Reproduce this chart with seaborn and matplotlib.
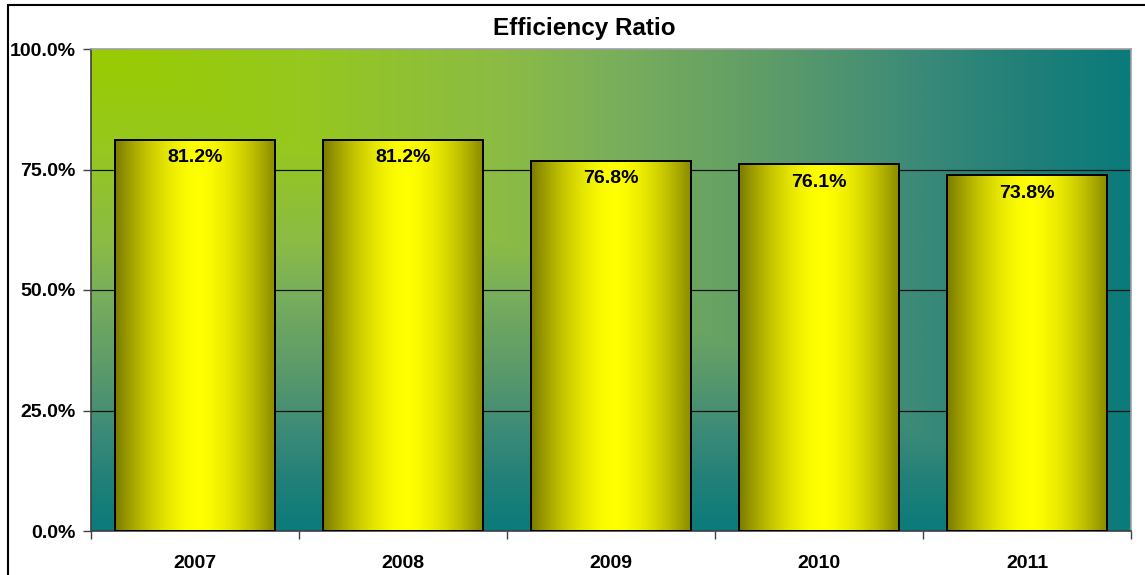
import numpy as np
import pandas as pd
import seaborn as sns
import matplotlib.pyplot as plt
from matplotlib.lines import Line2D
from matplotlib.ticker import FuncFormatter, MultipleLocator, FixedLocator
from matplotlib.colors import to_rgb, LinearSegmentedColormap

# chart data
years = ["2007", "2008", "2009", "2010", "2011"]
ratios = [81.2, 81.2, 76.8, 76.1, 73.8]

df = pd.DataFrame({"year": years, "ratio": ratios})

sns.set_style("white")
plt.rcParams["font.family"] = ["Liberation Sans", "DejaVu Sans"]
plt.rcParams["font.weight"] = "bold"
plt.rcParams["text.color"] = "black"

fig = plt.figure(figsize=(11.45, 5.75), dpi=100)
ax = fig.add_axes([91 / 1145, 1 - 531 / 575, 1040 / 1145, 482 / 575])

# background: excel style "from corner" gradient, lime -> teal
bg_cmap = LinearSegmentedColormap.from_list("bg", [
    (0.0, "#99CC00"), (0.2, "#96C81E"), (0.4, "#8BBB45"), (0.5, "#7AAF5B"),
    (0.62, "#65A065"), (0.72, "#4F9470"), (0.8, "#3A8A78"), (0.9, "#218078"),
    (1.0, "#0A7B7B")])
u = np.linspace(0, 1, 500)[None, :]
v = np.linspace(0, 1, 250)[:, None]
t = np.maximum(u, v)
ax.imshow(bg_cmap(t), extent=[0, 1, 0, 1], transform=ax.transAxes, aspect="auto",
          zorder=0, origin="upper")

sns.barplot(data=df, x="year", y="ratio", ax=ax, width=160 / 208,
            color="#FFFF00", edgecolor="black", linewidth=1.4, zorder=3)

# bar fill: olive edges, yellow centre
olive = np.array(to_rgb("#7A7A00"))
yellow = np.array(to_rgb("#FFFF00"))
s = np.linspace(0, 1, 200)
d = np.abs(s - 0.52) / 0.52
d = np.clip(d, 0, 1)
prof = yellow + (olive - yellow) * (d ** 1.7)[:, None]
grad = prof[None, :, :]
for p in ax.patches:
    x0, w, h = p.get_x(), p.get_width(), p.get_height()
    im = ax.imshow(grad, extent=[x0, x0 + w, 0, h], aspect="auto", zorder=2)
    im.set_clip_path(p)
    p.set_facecolor("none")

ax.set_xlim(-0.5, 4.5)
ax.set_ylim(0, 100)

# gridlines
for g in [25, 50, 75]:
    ax.axhline(g, color="#111111", lw=0.9, zorder=1)

ax.yaxis.set_major_locator(MultipleLocator(25))
ax.yaxis.set_major_formatter(FuncFormatter(lambda val, pos: f"{val:.1f}%"))
ax.xaxis.set_minor_locator(FixedLocator(np.arange(-0.5, 5, 1)))
ax.tick_params(axis="y", which="major", left=True, length=6, width=1,
               color="#404040", pad=5, labelsize=14, labelcolor="black")
ax.tick_params(axis="x", which="major", bottom=True, length=0, pad=17,
               labelsize=14, labelcolor="black")
ax.tick_params(axis="x", which="minor", bottom=True, length=6, width=1,
               color="#404040")
for lab in ax.get_xticklabels() + ax.get_yticklabels():
    lab.set_fontweight("bold")
ax.set_xlabel("")
ax.set_ylabel("")

for side in ["left", "bottom"]:
    ax.spines[side].set_color("#404040")
    ax.spines[side].set_linewidth(1.2)
for side in ["top", "right"]:
    ax.spines[side].set_color("#A0A0A0")
    ax.spines[side].set_linewidth(1.2)

# value labels inside bar tops
for i, val in enumerate(ratios):
    ax.annotate(f"{val:.1f}%", (i, val), xytext=(0, -13), textcoords="offset points",
                ha="center", va="center", fontsize=14, fontweight="bold",
                color="black", zorder=5)

fig.text(584 / 1145, 1 - 28 / 575, "Efficiency Ratio", ha="center", va="center",
         fontsize=17.5, fontweight="bold", color="black")

# outer chart frame (left & top edges visible)
fig.add_artist(Line2D([8 / 1145, 8 / 1145], [0, 1 - 5 / 575], color="black",
                      lw=1.5, transform=fig.transFigure))
fig.add_artist(Line2D([8 / 1145, 1], [1 - 5 / 575, 1 - 5 / 575], color="black",
                      lw=1.5, transform=fig.transFigure))

fig.savefig("out.png", dpi=100)
